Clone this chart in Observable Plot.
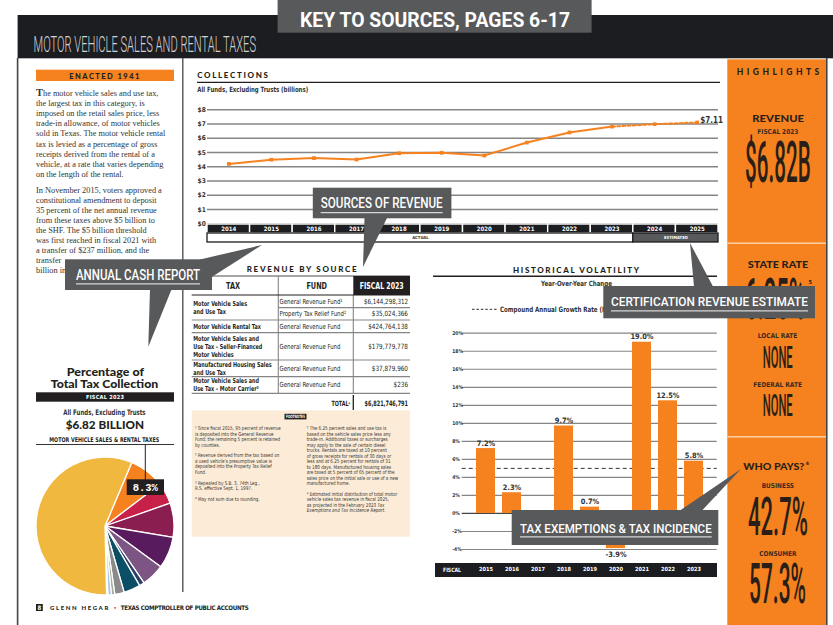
<!DOCTYPE html>
<html>
<head>
<meta charset="utf-8">
<script src="https://cdn.jsdelivr.net/npm/d3@7"></script>
<script src="https://cdn.jsdelivr.net/npm/@observablehq/plot@0.6"></script>
<style>
html,body{margin:0;padding:0;background:#fff}
#page{position:relative;width:833px;height:625px;overflow:hidden;background:#fff}
#page svg{position:absolute}
</style>
</head>
<body>
<div id="page"></div>
<script>
// ---------------- DATA ----------------
const collectionYears = [2014, 2015, 2016, 2017, 2018, 2019, 2020, 2021, 2022, 2023, 2024, 2025];
const collectionBillions = [4.20, 4.50, 4.61, 4.51, 4.95, 4.98, 4.79, 5.70, 6.41, 6.82, 6.99, 7.11];
const collectionTicks = [0, 1, 2, 3, 4, 5, 6, 7, 8];
const periodLabels = ["ACTUAL", "ESTIMATED"];
const periodStart = [2014, 2024];
const periodEnd = [2023, 2025];

const volatilityYears = [2015, 2016, 2017, 2018, 2019, 2020, 2021, 2022, 2023];
const volatilityChange = [7.2, 2.3, -1.8, 9.7, 0.7, -3.9, 19.0, 12.5, 5.8];
const volatilityTicks = [-4, -2, 0, 2, 4, 6, 8, 10, 12, 14, 16, 18, 20];
const compoundGrowthRate = 5.0;

const pieCategories = ["Motor Vehicle Sales & Rental Taxes", "Motor Fuel Taxes", "Franchise Tax", "Oil Production Tax",
  "Natural Gas Production Tax", "Cigarette & Tobacco Taxes", "Insurance Taxes", "Alcoholic Beverage Taxes",
  "Utility Taxes", "Hotel Occupancy Tax", "Other Taxes", "Sales Tax"];
const pieShares = [8.3, 5.0, 8.0, 7.4, 5.4, 1.2, 3.9, 2.2, 0.8, 0.8, 0.3, 56.7];
const pieColors = ["#f6821f", "#c7214a", "#8b1e50", "#581c5e", "#7c5585", "#2b3e64", "#0b4f66", "#8a8a8a",
  "#a3ad9a", "#a9c2dc", "#dde3ea", "#f0b83e"];

const sourceTaxes = ["Motor Vehicle Sales\nand Use Tax", "", "Motor Vehicle Rental Tax",
  "Motor Vehicle Sales and\nUse Tax – Seller-Financed\nMotor Vehicles", "Manufactured Housing Sales\nand Use Tax",
  "Motor Vehicle Sales and\nUse Tax – Motor Carrier³"];
const sourceFunds = ["General Revenue Fund¹", "Property Tax Relief Fund²", "General Revenue Fund",
  "General Revenue Fund", "General Revenue Fund", "General Revenue Fund"];
const sourceAmounts = [6144298312, 35024366, 424764138, 179779778, 37879960, 236];
const sourceTotal = 6821746791;

const highlightRevenue = "$6.82B";
const highlightStateRate = "6.25%";
const highlightBusiness = "42.7%";
const highlightConsumer = "57.3%";

const introPara1 = ["he motor vehicle sales and use tax,", "the largest tax in this category, is",
  "imposed on the retail sales price, less", "trade-in allowance, of motor vehicles",
  "sold in Texas. The motor vehicle rental", "tax is levied as a percentage of gross",
  "receipts derived from the rental of a", "vehicle, at a rate that varies depending", "on the length of the rental."];
const introPara2 = ["In November 2015, voters approved a", "constitutional amendment to deposit",
  "35 percent of the net annual revenue", "from these taxes above $5 billion to", "the SHF. The $5 billion threshold",
  "was first reached in fiscal 2021 with", "a transfer of $237 million, and the", "transfer", "billion in"];

const footLeft = [
  ["¹ Since fiscal 2015, 95 percent of revenue", "is deposited into the General Revenue", "Fund; the remaining 5 percent is retained", "by counties."],
  ["² Revenue derived from the tax based on", "a used vehicle's presumptive value is", "deposited into the Property Tax Relief", "Fund."],
  ["³ Repealed by S.B. 3, 74th Leg.,", "R.S. effective Sept. 1, 1997."],
  ["⁴ May not sum due to rounding."]
];
const footRight = [
  ["⁵ The 6.25 percent sales and use tax is", "based on the vehicle sales price less any", "trade-in. Additional taxes or surcharges",
   "may apply to the sale of certain diesel", "trucks. Rentals are taxed at 10 percent", "of gross receipts for rentals of 30 days or",
   "less and at 6.25 percent for rentals of 31", "to 180 days. Manufactured housing sales", "are taxed at 5 percent of 65 percent of the",
   "sales price on the initial sale or use of a new", "manufactured home."],
  ["⁶ Estimated initial distribution of total motor", "vehicle sales tax revenue in fiscal 2025,",
   [["as projected in the February 2023 "], ["Tax", {italic: true}]], [["Exemptions and Tax Incidence Report", {italic: true}], ["."]]]
];

// ---------------- STYLE ----------------
const F = {
  narrow: "'Liberation Sans Narrow','DejaVu Sans Condensed',Roboto,sans-serif",
  geo: "Lato,'Open Sans',sans-serif",
  serif: "'Liberation Serif','DejaVu Serif',serif",
  cond: "Roboto,'Liberation Sans',sans-serif",
  mono: "'Liberation Mono','DejaVu Sans Mono',monospace"
};
const ORANGE = "#f6821f", INK = "#231f20", BAND = "#1c1d21", CALLOUT = "#58595b", PEACH = "#fcecd7", GRID = "#858585";

const NS = "http://www.w3.org/2000/svg";
const page = document.getElementById("page");
function mk(tag, attrs, parent) {
  const e = document.createElementNS(NS, tag);
  for (const k in attrs) e.setAttribute(k, attrs[k]);
  if (parent) parent.appendChild(e);
  return e;
}
function newLayer() {
  const s = mk("svg", {width: 833, height: 625, viewBox: "0 0 833 625"});
  s.style.left = "0px"; s.style.top = "0px";
  page.appendChild(s);
  return s;
}
const rect = (p, x, y, w, h, fill, extra = {}) => mk("rect", {x, y, width: w, height: h, fill, ...extra}, p);
const line = (p, x1, y1, x2, y2, stroke, sw = 1, extra = {}) => mk("line", {x1, y1, x2, y2, stroke, "stroke-width": sw, ...extra}, p);
const poly = (p, pts, fill) => mk("polygon", {points: pts.map(d => d.join(",")).join(" "), fill}, p);
function txt(p, content, x, y, o = {}) {
  const t = mk("text", {x, y, "font-size": o.size || 8, "font-family": o.family || F.narrow,
    "font-weight": o.weight || 400, fill: o.fill || INK}, p);
  if (o.anchor) t.setAttribute("text-anchor", o.anchor);
  if (o.ls != null) t.setAttribute("letter-spacing", o.ls);
  const segs = Array.isArray(content) ? content : [[content]];
  for (const [s, so = {}] of segs) {
    const ts = mk("tspan", {}, t);
    if (so.italic) ts.setAttribute("font-style", "italic");
    if (so.weight) ts.setAttribute("font-weight", so.weight);
    if (so.size) ts.setAttribute("font-size", so.size);
    if (so.fill) ts.setAttribute("fill", so.fill);
    ts.textContent = s;
  }
  if (o.w) { t.setAttribute("textLength", o.w); t.setAttribute("lengthAdjust", o.adj || "spacingAndGlyphs"); }
  else if (o.sx || o.maxW) {
    let L = t.getComputedTextLength() * (o.sx || 1);
    if (o.maxW && L > o.maxW) L = o.maxW;
    t.setAttribute("textLength", L); t.setAttribute("lengthAdjust", "spacingAndGlyphs");
  }
  return t;
}

// ---------------- BACKGROUND LAYER ----------------
const bg = newLayer();
// header
rect(bg, 17.6, 15, 816, 43.3, BAND);
txt(bg, "MOTOR VEHICLE SALES AND RENTAL TAXES", 33.5, 51.5, {family: F.cond, weight: 300, size: 22, fill: "#d2d2d2", w: 222.5});
rect(bg, 277.6, 0, 314, 32.7, CALLOUT);
txt(bg, "KEY TO SOURCES, PAGES 6-17", 300, 27, {family: F.cond, weight: 700, size: 20, fill: "#fff", w: 270});
// frame lines
line(bg, 17.6, 58, 17.6, 625, "#444", 1.6);
line(bg, 182.8, 58, 182.8, 592, "#555", 1.4);
// highlights panel
rect(bg, 727.3, 59.3, 98.7, 566, ORANGE);
line(bg, 826.8, 58, 826.8, 625, "#3a3a3a", 1.5);
line(bg, 727.3, 243.3, 826, 243.3, "#fbd0a6", 1.6);
line(bg, 727.3, 436.7, 826, 436.7, "#fbd0a6", 1.6);
const HI = "#2a1f18";
txt(bg, "HIGHLIGHTS", 736.7, 75, {family: F.geo, weight: 900, size: 8.5, fill: HI, w: 82.6, adj: "spacing"});
txt(bg, "REVENUE", 752.3, 121.7, {family: F.geo, weight: 900, size: 9.5, fill: HI, w: 51.7});
txt(bg, "FISCAL 2023", 757.3, 133.8, {weight: 700, size: 6.6, fill: "#3b2a1e", w: 41});
txt(bg, highlightRevenue, 745, 181.7, {family: F.cond, weight: 500, size: 57.7, fill: HI, w: 65.7});
txt(bg, "STATE RATE", 747.7, 268.3, {family: F.geo, weight: 900, size: 9.5, fill: HI, w: 60.6});
txt(bg, highlightStateRate, 745, 319.3, {family: F.cond, weight: 500, size: 57.7, fill: HI, w: 60});
txt(bg, "5", 808.5, 283.5, {weight: 700, size: 5.5, fill: HI});
txt(bg, "LOCAL RATE", 757.7, 337.7, {weight: 700, size: 6.6, fill: "#3b2a1e", w: 39.7});
txt(bg, "NONE", 762.7, 368.3, {family: F.cond, weight: 500, size: 31.4, fill: HI, w: 30});
txt(bg, "FEDERAL RATE", 753.3, 386.7, {weight: 700, size: 6.6, fill: "#3b2a1e", w: 48.7});
txt(bg, "NONE", 762.7, 416, {family: F.cond, weight: 500, size: 30.5, fill: HI, w: 30});
txt(bg, "WHO PAYS?", 743.3, 470, {family: F.geo, weight: 900, size: 10, fill: HI, w: 61});
txt(bg, "6", 806, 465, {weight: 700, size: 4.6, fill: HI});
txt(bg, "BUSINESS", 761.7, 488.3, {weight: 700, size: 6.6, fill: "#3b2a1e", w: 32.3});
txt(bg, highlightBusiness, 748, 535, {family: F.cond, weight: 500, size: 54, fill: HI, w: 60});
txt(bg, "CONSUMER", 759.3, 555.5, {weight: 700, size: 6.6, fill: "#3b2a1e", w: 37.3});
txt(bg, highlightConsumer, 749, 603.3, {family: F.cond, weight: 500, size: 56, fill: HI, w: 57});

// left column intro
rect(bg, 36, 69.7, 138, 11.3, ORANGE);
txt(bg, "ENACTED 1941", 69.3, 78.6, {family: F.geo, weight: 900, size: 7.5, fill: INK, w: 70, adj: "spacing"});
introPara1.forEach((s, i) => {
  const content = i === 0 ? [["T", {weight: 700, size: 10.5}], [s]] : s;
  txt(bg, content, 36, 96 + i * 10.1, {family: F.serif, size: 8.3, fill: "#333"});
});
introPara2.forEach((s, i) => txt(bg, s, 36, 192.6 + i * 10.1, {family: F.serif, size: 8.3, fill: "#333"}));

// pie headings
txt(bg, "Percentage of", 66.7, 376, {family: F.geo, weight: 900, size: 11.5, fill: INK, w: 77.3});
txt(bg, "Total Tax Collection", 50.7, 388.3, {family: F.geo, weight: 900, size: 11.5, fill: INK, w: 107.6});
rect(bg, 36, 392.3, 138, 9.4, INK);
txt(bg, "FISCAL 2023", 86, 399.2, {weight: 700, size: 5.6, fill: "#fff", w: 38, adj: "spacing"});
txt(bg, "All Funds, Excluding Trusts", 63.3, 415, {weight: 700, size: 7.6, fill: "#333", w: 82.3});
txt(bg, "$6.82 BILLION", 65.7, 429, {family: F.geo, weight: 900, size: 11.5, fill: INK, w: 78.3});
txt(bg, "MOTOR VEHICLE SALES & RENTAL TAXES", 49.3, 441.7, {weight: 700, size: 6.4, fill: INK, w: 110});
line(bg, 36, 444.5, 174, 444.5, "#333", 1);

// footer
rect(bg, 36, 604, 6.8, 7, INK);
txt(bg, "8", 39.4, 609.8, {weight: 700, size: 6, fill: "#fff", anchor: "middle"});
txt(bg, "GLENN HEGAR", 50, 609.6, {family: F.geo, weight: 900, size: 6, fill: INK, w: 58.3, adj: "spacing"});
txt(bg, "•", 115, 609.6, {size: 6, fill: "#d0202e", anchor: "middle"});
txt(bg, "TEXAS COMPTROLLER OF PUBLIC ACCOUNTS", 120.7, 609.6, {weight: 700, size: 6.2, fill: INK, w: 128, adj: "spacing"});

// collections headings
txt(bg, "COLLECTIONS", 197.2, 78.3, {family: F.geo, weight: 900, size: 8, fill: INK, w: 70.8, adj: "spacing"});
line(bg, 197, 82.4, 720, 82.4, INK, 1.4);
txt(bg, "All Funds, Excluding Trusts (billions)", 197.2, 91.7, {weight: 700, size: 7.2, fill: "#333", w: 111});

// revenue by source table
txt(bg, "REVENUE BY SOURCE", 246.7, 271.7, {family: F.geo, weight: 900, size: 8, fill: INK, w: 110, adj: "spacing"});
const TL = 191.7, TC1 = 278.3, TC2 = 353.3, TR = 410;
line(bg, TL, 276, TR, 276, INK, 0.8);
rect(bg, TC2, 276, TR - TC2, 19, INK);
txt(bg, "TAX", 233, 288.6, {weight: 700, size: 8.5, fill: INK, anchor: "middle", sx: 0.85});
txt(bg, "FUND", 316.7, 288.6, {weight: 700, size: 8.5, fill: INK, anchor: "middle", sx: 0.85});
txt(bg, "FISCAL 2023", 381.7, 288.6, {weight: 700, size: 8.5, fill: "#fff", anchor: "middle", w: 44});
const rowTops = [295, 307.7, 320, 332.7, 360, 376.7, 393.3];
line(bg, TC1, 276, TC1, 393.3, GRID, 1.1);
line(bg, TC2, 295, TC2, 393.3, GRID, 1.1);
line(bg, TL, 295, TR, 295, INK, 1.2);
rowTops.slice(1).forEach((y, i) => line(bg, i === 0 ? TC1 : TL, y, TR, y, GRID, 1.2));
const fmtMoney = d3.format("$,");
sourceFunds.forEach((fund, i) => {
  const mid = (rowTops[i] + rowTops[i + 1]) / 2;
  txt(bg, fund, 279.6, mid + 2.4, {size: 7, fill: INK, sx: 0.85, maxW: 71});
  txt(bg, fmtMoney(sourceAmounts[i]), 408, mid + 2.4, {size: 7.2, fill: INK, anchor: "end", sx: 0.88, maxW: 44});
  if (sourceTaxes[i]) {
    const bottom = sourceTaxes[i + 1] === "" ? rowTops[i + 2] : rowTops[i + 1];
    const m = (rowTops[i] + bottom) / 2;
    const lines = sourceTaxes[i].split("\n");
    lines.forEach((s, j) => txt(bg, s, 193.3, m + 2.4 + (j - (lines.length - 1) / 2) * 8,
      {weight: 700, size: 6.9, fill: INK, sx: 0.78, maxW: 80}));
  }
});
line(bg, TC2, 395, TC2, 410, INK, 1.3);
txt(bg, [["TOTAL"], ["⁴", {size: 5}]], 350, 405.5, {weight: 700, size: 7.2, fill: INK, anchor: "end", w: 18.5});
txt(bg, fmtMoney(sourceTotal), 408, 405.5, {weight: 700, size: 7.4, fill: INK, anchor: "end", w: 43.5});

// footnotes
rect(bg, TL, 410.5, TR - TL, 126.2, PEACH);
rect(bg, 284.5, 413.8, 22, 5.6, INK);
txt(bg, "FOOTNOTES", 295.5, 418.2, {weight: 700, size: 4.4, fill: "#fff", anchor: "middle", w: 19});
function footCol(paras, x, y0, maxW) {
  let y = y0;
  paras.forEach(lines => {
    lines.forEach(s => { txt(bg, s, x, y, {size: 5.3, fill: "#333", sx: 0.86, maxW}); y += 5.5; });
    y += 5.3;
  });
}
footCol(footLeft, 195, 430, 96);
footCol(footRight, 306.7, 430, 100);

// volatility headings
txt(bg, "HISTORICAL VOLATILITY", 513, 272.7, {family: F.geo, weight: 900, size: 8, fill: INK, w: 126, adj: "spacing"});
line(bg, 433, 276.3, 717, 276.3, INK, 1.4);
txt(bg, "Year-Over-Year Change", 576.5, 286, {weight: 700, size: 7.2, fill: "#333", anchor: "middle", w: 71});
line(bg, 472, 309.3, 497, 309.3, "#333", 1, {"stroke-dasharray": "2.6,1.8"});
txt(bg, "Compound Annual Growth Rate (Fiscal 2014-2023)", 500, 312, {weight: 700, size: 7.3, fill: "#333", sx: 0.84});
rect(bg, 435, 563, 282, 14, BAND);
txt(bg, "FISCAL", 443, 572.2, {weight: 700, size: 5.8, fill: "#fff", w: 18});

// ---------------- PLOT CHARTS ----------------
function place(svg, left, top) {
  svg.style.left = left + "px"; svg.style.top = top + "px";
  svg.style.background = "transparent"; svg.style.overflow = "visible";
  page.appendChild(svg);
}
const plotStyle = {background: "transparent", overflow: "visible", fontFamily: F.narrow};

// Collections line chart
const X0 = 207, X1 = 718;
const coll = collectionYears.map((year, i) => ({year, value: collectionBillions[i]}));
const collActual = coll.filter(d => d.year <= 2023);
const collEst = coll.filter(d => d.year >= 2023);
place(Plot.plot({
  width: 540, height: 140, marginLeft: X0 - 183, marginRight: 540 - (X1 - 183), marginTop: 0, marginBottom: 0,
  x: {type: "linear", domain: [2013.5, 2025.5], range: [X0 - 183, X1 - 183], axis: null},
  y: {domain: [0, 8], range: [223.3 - 95, 109.3 - 95], axis: null},
  style: plotStyle,
  marks: [
    Plot.ruleY(collectionTicks, {stroke: GRID, strokeWidth: 1.4}),
    Plot.text(collectionTicks, {y: d => d, text: d => "$" + d, frameAnchor: "left", textAnchor: "start", dx: -10,
      fontSize: 6.6, fontWeight: 700, fill: "#333"}),
    Plot.line(collActual, {x: "year", y: "value", stroke: ORANGE, strokeWidth: 2}),
    Plot.line(collEst, {x: "year", y: "value", stroke: ORANGE, strokeWidth: 2, strokeDasharray: "3,2.2"}),
    Plot.dot(coll, {x: "year", y: "value", symbol: "square", r: 2.1, fill: ORANGE}),
    Plot.text(coll.slice(-1), {x: "year", y: "value", text: d => "$" + d.value.toFixed(2), textAnchor: "start",
      dx: 3, dy: -2.5, fontSize: 8, fontWeight: 700, fill: "#333"})
  ]
}), 183, 95);

// Year strip under collections
const periods = periodLabels.map((label, i) => ({label, start: periodStart[i], end: periodEnd[i]}));
place(Plot.plot({
  width: 540, height: 20, marginLeft: X0 - 183, marginRight: 540 - (X1 - 183), marginTop: 0, marginBottom: 0,
  x: {type: "linear", domain: [2013.5, 2025.5], range: [X0 - 183, X1 - 183], axis: null},
  y: {domain: [0, 2], range: [1, 19], axis: null},
  style: plotStyle,
  marks: [
    Plot.rect(collectionYears, {x1: d => d - 0.5, x2: d => d + 0.5, y1: 0, y2: 1, fill: BAND, stroke: "#fff", strokeWidth: 1.4}),
    Plot.text(collectionYears, {x: d => d, y: 0.5, text: d => String(d), fill: "#fff", fontSize: 6, fontWeight: 700}),
    Plot.rect(periods.filter(d => d.label === "ACTUAL"), {x1: d => d.start - 0.5, x2: d => d.end + 0.5, y1: 1, y2: 2, fill: "#fff", stroke: BAND, strokeWidth: 1.3}),
    Plot.rect(periods.filter(d => d.label !== "ACTUAL"), {x1: d => d.start - 0.5, x2: d => d.end + 0.5, y1: 1, y2: 2, fill: CALLOUT, stroke: BAND, strokeWidth: 1.3}),
    Plot.text(periods, {x: d => (d.start + d.end) / 2, y: 1.5, text: "label", fontSize: 4.2, fontWeight: 700,
      fill: d => d.label === "ACTUAL" ? "#333" : "#fff"})
  ]
}), 183, 223.3);

// Historical volatility bar chart
const vol = volatilityYears.map((year, i) => ({year, change: volatilityChange[i]}));
const pct = d => d.toFixed(1) + "%";
place(Plot.plot({
  width: 290, height: 262, marginLeft: 31.7, marginRight: 3.3, marginTop: 12.7, marginBottom: 33,
  x: {type: "band", domain: volatilityYears, range: [37.75, 281.25], padding: 0.276, axis: null},
  y: {domain: [-4, 20], range: [229, 12.7], axis: null},
  style: plotStyle,
  marks: [
    Plot.ruleY(volatilityTicks.filter(d => d !== 0), {stroke: GRID, strokeWidth: 1.2}),
    Plot.ruleY([0], {stroke: "#444", strokeWidth: 1.3}),
    Plot.text(volatilityTicks, {y: d => d, text: d => d + "%", frameAnchor: "left", textAnchor: "start", dx: -10,
      fontSize: 5, fontWeight: 700, fill: "#333"}),
    Plot.ruleY([compoundGrowthRate], {stroke: "#333", strokeWidth: 1, strokeDasharray: "4,3"}),
    Plot.barY(vol, {x: "year", y: "change", fill: ORANGE}),
    Plot.text(vol.filter(d => d.change >= 0), {x: "year", y: "change", text: d => pct(d.change), lineAnchor: "bottom",
      dy: -3, fontSize: 7.4, fontWeight: 700, fill: "#333"}),
    Plot.text(vol.filter(d => d.change < 0), {x: "year", y: "change", text: d => pct(d.change), lineAnchor: "top",
      dy: 3, fontSize: 7.4, fontWeight: 700, fill: "#333"}),
    Plot.text(volatilityYears, {x: d => d, text: d => String(d), frameAnchor: "bottom", dy: 21, fill: "#fff",
      fontSize: 5.6, fontWeight: 700})
  ]
}), 430, 320);

// Pie chart of total tax collection
const pieData = pieCategories.map((category, i) => ({category, share: pieShares[i], color: pieColors[i]}));
const startAngle = 22.8 * Math.PI / 180;
const arcs = d3.pie().value(d => d.share).sort(null).startAngle(startAngle).endAngle(startAngle + 2 * Math.PI)(pieData);
place(Plot.plot({
  width: 150, height: 145, margin: 0,
  x: {domain: [-1, 1], range: [6, 144], axis: null},
  y: {domain: [-1, 1], range: [140, 2], axis: null},
  style: plotStyle,
  marks: [
    Plot.dot([{x: 0, y: 0}], {x: "x", y: "y", r: 0}),
    (index, scales) => {
      const sx = scales.x || (v => 75 + v * 69), sy = scales.y || (v => 71 - v * 69);
      const cx = sx(0), cy = sy(0), r = sx(1) - sx(0);
      const g = d3.create("svg:g").attr("transform", `translate(${cx},${cy})`);
      const arc = d3.arc().innerRadius(0).outerRadius(r);
      g.selectAll("path").data(arcs).join("path").attr("d", arc).attr("fill", d => d.data.color)
        .attr("stroke", "#fff").attr("stroke-width", 1.3).attr("stroke-linejoin", "round");
      return g.node();
    }
  ]
}), 30, 455);

// ---------------- OVERLAY LAYER (labels & callouts) ----------------
const ov = newLayer();
line(ov, 145.3, 444.5, 145.3, 480, INK, 1);
rect(ov, 126.7, 479.3, 37.3, 15.7, INK);
txt(ov, pieShares[0] + "%", 145.3, 490.8, {family: F.mono, weight: 700, size: 10.5, fill: "#fff", anchor: "middle"});

function callout(box, label, tx, tw, base, size, ul, tails) {
  tails.forEach(t => poly(ov, t, CALLOUT));
  rect(ov, box[0], box[1], box[2], box[3], CALLOUT);
  txt(ov, label, tx, base, {family: F.cond, weight: 500, size, fill: "#fff", w: tw});
  line(ov, tx, ul, tx + tw, ul, "#d6d6d6", 1.3);
}
callout([65, 259.3, 147, 30.7], "ANNUAL CASH REPORT", 76, 124, 280, 14, 283.8,
  [[[150, 289], [171.7, 289], [148.3, 346.7]], [[200, 259.5], [211.7, 277], [262, 245]]]);
callout([312.8, 187.7, 138.6, 30.6], "SOURCES OF REVENUE", 320.7, 122, 207.7, 14, 212.7,
  [[[364.5, 218], [387, 218], [363, 267]]]);
callout([603.3, 286, 211.7, 32.3], "CERTIFICATION  REVENUE ESTIMATE", 611, 197, 306.3, 13, 310.8,
  [[[694, 286.5], [713, 286.5], [690, 243]]]);
callout([511.7, 510, 206.6, 35], "TAX EXEMPTIONS & TAX INCIDENCE", 520, 191.7, 532.7, 13.2, 536.9,
  [[[680, 510.5], [702, 510.5], [741, 469]]]);
</script>
</body>
</html>
